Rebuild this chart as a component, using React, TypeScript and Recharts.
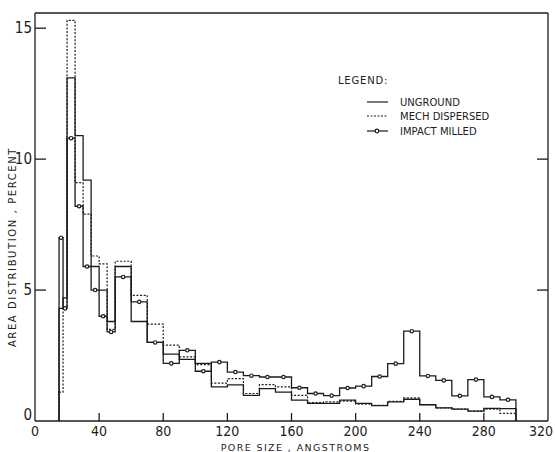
import React from 'react';
import { ComposedChart, Line, XAxis, YAxis, Legend } from 'recharts';

// Bin edges (Angstroms)
const binEdges = [15, 17.5, 20, 25, 30, 35, 40, 45, 50, 60, 70, 80, 90, 100, 110, 120, 130, 140, 150, 160, 170, 180, 190, 200, 210, 220, 230, 240, 250, 260, 270, 280, 290, 300];
// Area distribution, percent, per bin
const ungroundValues = [4.3, 4.7, 13.1, 10.9, 9.2, 5.9, 5.0, 3.8, 5.9, 3.8, 3.0, 2.55, 2.35, 2.2, 1.3, 1.38, 0.98, 1.24, 1.1, 0.8, 0.67, 0.67, 0.8, 0.67, 0.59, 0.73, 0.83, 0.62, 0.5, 0.45, 0.38, 0.48, 0.47];
const mechDispersedValues = [1.1, 4.3, 15.3, 9.1, 7.9, 6.3, 6.0, 3.5, 6.1, 4.8, 3.7, 2.9, 2.45, 2.15, 1.45, 1.62, 1.05, 1.39, 1.3, 0.98, 0.7, 0.73, 0.76, 0.64, 0.6, 0.75, 0.88, 0.62, 0.5, 0.45, 0.38, 0.45, 0.29];
const impactMilledValues = [7.0, 4.3, 10.8, 8.2, 5.9, 5.0, 4.0, 3.4, 5.5, 4.55, 3.0, 2.2, 2.7, 1.9, 2.25, 1.87, 1.73, 1.68, 1.68, 1.27, 1.05, 0.97, 1.26, 1.33, 1.7, 2.19, 3.43, 1.72, 1.55, 0.96, 1.58, 0.92, 0.81];

const xTicks = [0, 40, 80, 120, 160, 200, 240, 280, 320];
const yTicks = [0, 5, 10, 15];
const rightTicks = [5, 10];
const xTitle = 'PORE SIZE , ANGSTROMS';
const yTitle = 'AREA DISTRIBUTION , PERCENT';
const legendTitle = 'LEGEND:';
const seriesNames = ['UNGROUND', 'MECH DISPERSED', 'IMPACT MILLED'];

const INK = '#1c1c1c';
const NUM_FONT = '"Liberation Sans Narrow", "DejaVu Sans Condensed", sans-serif';
const TXT_FONT = '"DejaVu Sans", sans-serif';

function stepPoints(values: number[]) {
  const last = binEdges.length - 1;
  const pts = [{ x: binEdges[0], y: 0 }];
  values.forEach((v, i) => pts.push({ x: binEdges[i], y: v }));
  pts.push({ x: binEdges[last], y: values[values.length - 1] });
  pts.push({ x: binEdges[last], y: 0 });
  return pts;
}
function centerPoints(values: number[]) {
  return values.map((v, i) => ({ x: (binEdges[i] + binEdges[i + 1]) / 2, y: v }));
}

const ungroundData = stepPoints(ungroundValues);
const mechData = stepPoints(mechDispersedValues);
const impactData = stepPoints(impactMilledValues);
const impactMarkers = centerPoints(impactMilledValues);

const BottomTick = (props: any) => {
  const { x, y, payload } = props;
  const v = payload.value;
  return (
    <g>
      {v !== 0 && v !== 320 && <line x1={x} y1={y} x2={x} y2={y - 8} stroke={INK} strokeWidth={1.3} />}
      <text x={v === 320 ? x - 7 : x} y={y + 15} textAnchor="middle" fontFamily={NUM_FONT} fontSize={14} fill={INK}>
        {v}
      </text>
    </g>
  );
};
const TopTick = (props: any) => {
  const { x, y, payload } = props;
  const v = payload.value;
  if (v === 0 || v === 320) return <g />;
  return <line x1={x} y1={y} x2={x} y2={y + 8} stroke={INK} strokeWidth={1.3} />;
};
const LeftTick = (props: any) => {
  const { x, y, payload } = props;
  const v = payload.value;
  return (
    <g>
      {v !== 0 && <line x1={x} y1={y} x2={x + 11} y2={y} stroke={INK} strokeWidth={1.3} />}
      <text x={x - 3} y={v === 0 ? y - 1 : y + 5} textAnchor="end" fontFamily={NUM_FONT} fontSize={15} fill={INK}>
        {v}
      </text>
    </g>
  );
};
const RightTick = (props: any) => {
  const { x, y } = props;
  return <line x1={x} y1={y} x2={x - 11} y2={y} stroke={INK} strokeWidth={1.3} />;
};

const XTitle = (props: any) => {
  const vb = props.viewBox;
  return (
    <text x={vb.x + vb.width / 2 + 4} y={vb.y + vb.height - 1} textAnchor="middle" fontFamily={TXT_FONT} fontSize={9.5} letterSpacing={1.4} fill={INK}>
      {xTitle}
    </text>
  );
};
const YTitle = (props: any) => {
  const vb = props.viewBox;
  const cx = 12;
  const cy = vb.y + vb.height / 2 + 30;
  return (
    <text x={cx} y={cy} transform={`rotate(-90, ${cx}, ${cy})`} textAnchor="middle" dominantBaseline="central" fontFamily={TXT_FONT} fontSize={10} letterSpacing={1.6} fill={INK}>
      {yTitle}
    </text>
  );
};

const LegendBox = () => {
  const rows = [34, 48, 63];
  return (
    <svg width={210} height={76} style={{ display: 'block', overflow: 'visible' }}>
      <text x={8} y={16} fontFamily={TXT_FONT} fontSize={10} letterSpacing={0.8} fill={INK}>{legendTitle}</text>
      <line x1={37} x2={58} y1={rows[0]} y2={rows[0]} stroke={INK} strokeWidth={1.2} />
      <line x1={37} x2={58} y1={rows[1]} y2={rows[1]} stroke={INK} strokeWidth={1.2} strokeDasharray="2 1.5" />
      <line x1={37} x2={58} y1={rows[2]} y2={rows[2]} stroke={INK} strokeWidth={1.2} />
      <circle cx={47} cy={rows[2]} r={1.8} fill="#fff" stroke={INK} strokeWidth={1.2} />
      {seriesNames.map((n, i) => (
        <text key={n} x={70} y={rows[i] + 4} fontFamily={TXT_FONT} fontSize={10} fill={INK}>{n}</text>
      ))}
    </svg>
  );
};

export default function App() {
  return (
    <div style={{ position: 'absolute', left: 0, top: 0, width: 555, height: 452, background: '#fff' }}>
      <ComposedChart width={555} height={452} margin={{ top: 0, right: 0, bottom: 0, left: 0 }}>
        <XAxis
          xAxisId="b"
          dataKey="x"
          type="number"
          domain={[0, 320]}
          ticks={xTicks}
          orientation="bottom"
          height={31}
          tickSize={0}
          tickMargin={0}
          tickLine={false}
          axisLine={{ stroke: INK, strokeWidth: 1.3 }}
          tick={<BottomTick />}
          interval={0}
          allowDataOverflow
          label={<XTitle />}
        />
        <XAxis
          xAxisId="t"
          type="number"
          domain={[0, 320]}
          ticks={xTicks}
          orientation="top"
          height={13}
          tickSize={0}
          tickMargin={0}
          tickLine={false}
          axisLine={{ stroke: INK, strokeWidth: 1.3 }}
          tick={<TopTick />}
          interval={0}
          allowDataOverflow
        />
        <YAxis
          yAxisId="l"
          type="number"
          domain={[0, 15.58]}
          ticks={yTicks}
          orientation="left"
          width={35}
          tickSize={0}
          tickMargin={0}
          tickLine={false}
          axisLine={{ stroke: INK, strokeWidth: 1.3 }}
          tick={<LeftTick />}
          interval={0}
          allowDataOverflow
          label={<YTitle />}
        />
        <YAxis
          yAxisId="r"
          type="number"
          domain={[0, 15.58]}
          ticks={rightTicks}
          orientation="right"
          width={7}
          tickSize={0}
          tickMargin={0}
          tickLine={false}
          axisLine={{ stroke: INK, strokeWidth: 1.3 }}
          tick={<RightTick />}
          interval={0}
          allowDataOverflow
        />
        <Legend
          layout="horizontal"
          verticalAlign="middle"
          align="center"
          wrapperStyle={{ position: 'absolute', left: 330, top: 68, width: 210, height: 76 }}
          content={() => <LegendBox />}
        />
        <Line xAxisId="b" yAxisId="l" data={mechData} dataKey="y" name={seriesNames[1]} type="stepAfter" stroke={INK} strokeWidth={1.2} strokeDasharray="2 1.6" dot={false} activeDot={false} isAnimationActive={false} />
        <Line xAxisId="b" yAxisId="l" data={ungroundData} dataKey="y" name={seriesNames[0]} type="stepAfter" stroke={INK} strokeWidth={1.3} dot={false} activeDot={false} isAnimationActive={false} />
        <Line xAxisId="b" yAxisId="l" data={impactData} dataKey="y" name={seriesNames[2]} type="stepAfter" stroke={INK} strokeWidth={1.3} dot={false} activeDot={false} isAnimationActive={false} />
        <Line xAxisId="b" yAxisId="l" data={impactMarkers} dataKey="y" name="impact-markers" legendType="none" stroke="none" dot={{ r: 1.7, fill: '#fff', stroke: INK, strokeWidth: 1.2 }} activeDot={false} isAnimationActive={false} />
        <Line xAxisId="t" yAxisId="r" data={[]} dataKey="y" stroke="none" dot={false} legendType="none" isAnimationActive={false} />
      </ComposedChart>
    </div>
  );
}
